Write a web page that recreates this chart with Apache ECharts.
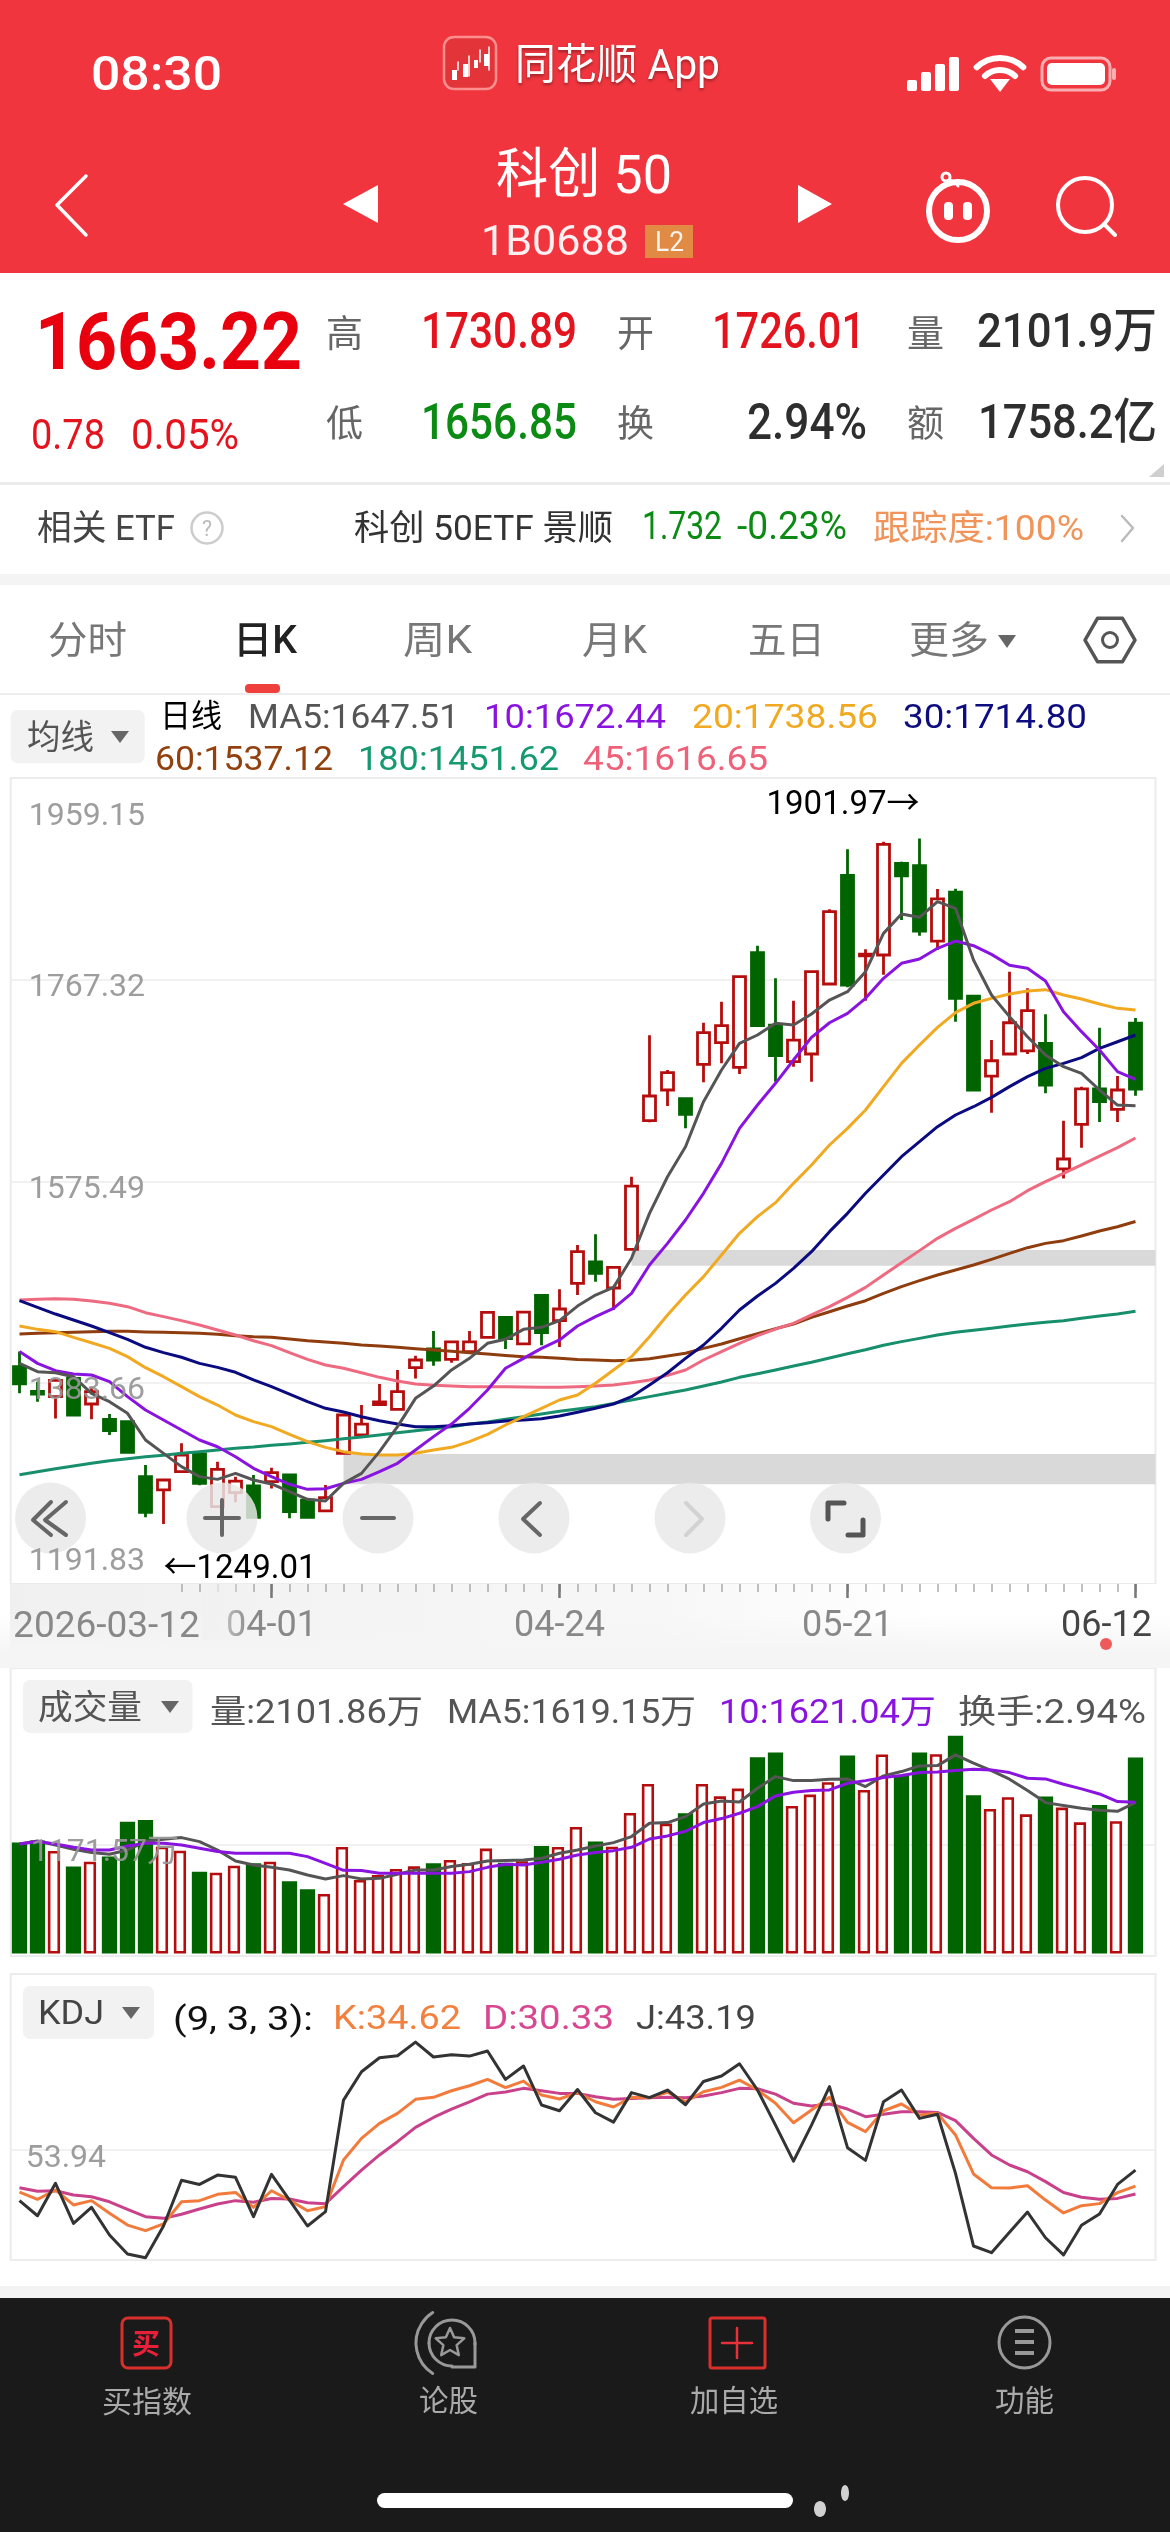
<!DOCTYPE html>
<html lang="zh-CN">
<head>
<meta charset="utf-8">
<title>科创50 日K</title>
<style>html,body{margin:0;padding:0;background:#fff}#main{width:1170px;height:2532px}</style>
<script src="https://cdn.jsdelivr.net/npm/echarts@6/dist/echarts.min.js"></script>
</head>
<body>
<div id="main"></div>
<script>
// Trading days shown on the daily chart
const dates = ['2026-03-12','03-13','03-16','03-17','03-18','03-19','03-20','03-23','03-24','03-25','03-26','03-27','03-30','03-31','04-01','04-02','04-03','04-07','04-08','04-09','04-10','04-13','04-14','04-15','04-16','04-17','04-20','04-21','04-22','04-23','04-24','04-27','04-28','04-29','04-30','05-06','05-07','05-08','05-11','05-12','05-13','05-14','05-15','05-18','05-19','05-20','05-21','05-22','05-25','05-26','05-27','05-28','05-29','06-01','06-02','06-03','06-04','06-05','06-08','06-09','06-10','06-11','06-12'];
const dateLabels = ['2026-03-12','04-01','04-24','05-21','06-12'];

// Daily prices
const open = [1398.9,1375.4,1370.3,1387.7,1363.3,1348.7,1346.5,1294.1,1281.4,1298.8,1315.7,1265.5,1278.8,1285.2,1289.3,1295.7,1271.8,1261.4,1316.3,1333.8,1362.7,1358.2,1397.9,1415.7,1405.8,1413.2,1426.8,1445.8,1420.5,1466.8,1442.7,1478.2,1498.6,1473.8,1510.6,1633.2,1662.4,1654.2,1686.9,1707.5,1684.0,1793.2,1724.3,1689.4,1696.7,1763.4,1866.9,1790.1,1791.0,1878.3,1876.1,1804.3,1851.0,1751.9,1675.7,1696.7,1699.6,1706.9,1587.2,1629.7,1663.4,1644.0,1726.01];
const close = [1382.4,1372.8,1385.8,1352.8,1375.0,1337.9,1317.3,1260.1,1290.9,1314.7,1287.7,1301.1,1289.9,1255.3,1297.9,1260.7,1255.3,1274.1,1352.8,1344.2,1365.2,1375.0,1405.2,1405.2,1422.4,1422.4,1450.6,1425.5,1450.9,1431.2,1453.8,1508.4,1487.8,1493.5,1570.9,1656.7,1678.9,1639.2,1717.0,1723.7,1770.4,1723.7,1695.1,1710.0,1775.1,1832.3,1762.4,1791.9,1896.4,1866.3,1813.9,1844.4,1749.7,1662.4,1690.3,1726.5,1738.0,1667.2,1596.7,1663.4,1651.3,1662.4,1663.22];
const low = [1373.5,1365.5,1349.6,1352.8,1348.7,1333.8,1317.3,1255.3,1249.01,1298.8,1285.8,1265.5,1269.6,1255.3,1282.9,1254.4,1255.3,1261.4,1316.3,1332.8,1362.7,1358.2,1387.7,1399.8,1402.7,1411.6,1426.8,1415.7,1420.5,1419.2,1417.6,1467.1,1479.8,1452.8,1510.6,1631.6,1647.2,1625.9,1669.7,1687.8,1677.6,1723.7,1670.3,1684.6,1670.3,1763.4,1760.2,1747.5,1772.2,1824.4,1809.4,1795.8,1727.5,1662.4,1640.8,1696.7,1696.7,1659.2,1578.2,1607.5,1631.9,1631.9,1656.85];
const high = [1413.2,1384.6,1386.5,1389.3,1379.8,1353.8,1347.4,1305.2,1290.9,1325.8,1316.3,1308.3,1294.1,1295.7,1302.6,1295.7,1271.8,1286.1,1352.8,1362.3,1382.3,1395.7,1409.3,1432.8,1422.4,1432.8,1450.6,1445.8,1450.9,1466.8,1472.5,1514.8,1524.9,1493.5,1579.8,1714.5,1681.5,1655.4,1726.5,1746.6,1770.4,1799.9,1768.8,1747.5,1775.1,1834.5,1891.7,1796.4,1899.0,1879.9,1901.97,1853.9,1854.2,1752.9,1710.0,1775.1,1759.3,1734.5,1633.2,1665.6,1721.8,1675.7,1730.89];

// Moving averages of the close
const ma5 = [1402.0,1394.1,1393.1,1389.3,1373.5,1365.5,1354.4,1329.0,1316.3,1303.6,1294.1,1291.5,1297.2,1290.9,1287.1,1279.8,1272.5,1270.9,1287.7,1297.2,1317.9,1341.7,1368.7,1380.4,1395.7,1406.8,1421.1,1424.9,1434.4,1436.3,1442.7,1456.6,1467.1,1474.4,1502.1,1544.9,1579.8,1608.4,1651.3,1681.5,1706.9,1714.8,1725.9,1724.3,1734.8,1748.1,1756.1,1775.1,1811.6,1830.1,1826.9,1841.8,1835.5,1786.3,1752.9,1732.3,1713.2,1695.8,1684.6,1678.3,1662.4,1648.1,1647.51];
const ma10 = [1413.2,1402.0,1395.0,1391.9,1390.9,1384.6,1370.3,1357.6,1348.0,1338.5,1329.0,1322.6,1313.1,1302.0,1294.1,1286.8,1282.0,1282.6,1287.7,1291.5,1298.8,1306.8,1319.5,1332.2,1344.2,1359.2,1376.6,1397.3,1406.8,1416.3,1424.3,1437.6,1446.5,1454.4,1468.7,1495.7,1516.3,1538.6,1564.0,1592.5,1625.9,1648.1,1668.8,1691.0,1712.6,1726.5,1735.4,1749.7,1768.8,1783.1,1787.2,1797.4,1804.3,1799.9,1791.6,1781.2,1778.3,1766.2,1737.0,1718.0,1700.5,1679.9,1672.44];
const ma20 = [1437.6,1434.4,1432.2,1426.8,1421.7,1416.3,1408.4,1397.9,1389.3,1379.8,1370.3,1362.3,1352.8,1346.5,1341.7,1334.4,1327.4,1322.0,1317.9,1315.7,1314.7,1314.7,1316.3,1319.5,1322.0,1327.4,1334.4,1343.3,1351.2,1359.2,1367.1,1371.9,1383.0,1395.7,1408.4,1427.4,1448.1,1467.1,1484.6,1505.2,1525.9,1541.8,1555.1,1573.5,1591.0,1610.0,1625.9,1643.4,1665.6,1687.8,1705.3,1722.1,1736.1,1745.0,1749.7,1753.9,1756.7,1758.0,1752.9,1749.1,1744.3,1740.2,1738.56];
const ma30 = [1461.7,1455.4,1449.0,1443.3,1437.6,1431.2,1424.9,1417.3,1412.2,1407.8,1402.0,1398.2,1393.5,1386.2,1379.8,1372.8,1365.5,1359.2,1355.7,1351.2,1347.4,1344.2,1341.7,1341.7,1342.6,1344.2,1345.5,1347.1,1348.0,1349.3,1351.9,1355.4,1359.2,1363.3,1370.3,1381.4,1393.1,1406.8,1419.5,1435.4,1452.8,1466.2,1478.2,1492.5,1508.4,1527.5,1544.9,1564.0,1581.4,1598.9,1613.2,1627.5,1638.6,1646.5,1655.4,1665.6,1675.1,1683.0,1687.8,1693.2,1702.1,1708.4,1714.80];
const ma45 = [1462.4,1463.0,1463.6,1463.0,1461.4,1459.2,1456.0,1450.3,1446.5,1442.7,1438.5,1433.8,1429.0,1423.6,1418.9,1412.2,1405.8,1400.4,1397.3,1393.1,1388.7,1385.2,1382.3,1381.1,1380.4,1379.8,1379.8,1379.8,1379.5,1379.2,1379.2,1379.8,1380.4,1381.4,1383.6,1386.2,1390.6,1395.7,1405.2,1413.2,1421.1,1428.4,1434.7,1440.1,1448.1,1456.0,1464.9,1474.4,1486.2,1497.9,1509.4,1521.1,1530.6,1539.2,1548.1,1556.0,1566.5,1575.1,1583.0,1591.0,1599.5,1607.5,1616.65];
const ma60 = [1430.0,1430.6,1431.2,1431.6,1432.2,1432.5,1432.5,1431.9,1431.6,1431.2,1430.6,1429.7,1428.4,1427.4,1426.8,1425.2,1423.6,1422.4,1421.1,1419.5,1418.6,1417.3,1416.0,1414.7,1413.5,1412.2,1410.9,1409.6,1408.4,1407.8,1406.8,1405.8,1405.2,1404.6,1404.9,1406.5,1409.0,1411.6,1416.3,1420.5,1425.5,1430.3,1435.1,1439.5,1445.8,1451.2,1456.6,1461.7,1468.7,1475.1,1480.8,1486.2,1490.9,1495.7,1501.1,1506.8,1512.2,1516.3,1518.9,1523.3,1528.1,1532.2,1537.12];
const ma180 = [1296.0,1298.8,1301.7,1304.2,1306.8,1309.3,1311.2,1313.1,1314.4,1316.3,1317.9,1319.5,1321.1,1322.3,1323.9,1325.2,1326.8,1328.4,1330.3,1331.9,1333.8,1336.0,1337.9,1339.8,1341.7,1344.2,1346.1,1348.7,1351.2,1353.8,1356.3,1358.5,1360.8,1363.9,1367.1,1370.3,1373.5,1376.6,1380.4,1384.2,1388.7,1392.2,1395.7,1399.5,1403.0,1407.1,1411.2,1415.0,1419.2,1422.7,1425.8,1429.0,1431.6,1433.5,1435.4,1437.6,1439.5,1441.1,1442.7,1444.9,1447.1,1449.0,1451.62];

// Price gaps still open, as [upper, lower] with the day each one begins
const gapStartDays = ['04-08','04-30'];
const gapUppers = [1315.7,1510.0];
const gapLowers = [1286.8,1495.1];

// Turnover in units of 万手
const volume = [1189,1211,1100,932,985,1039,1414,1432,1146,1103,878,867,942,967,985,774,688,638,1143,788,842,907,935,967,1003,971,1125,974,989,1153,1143,1357,1200,1146,1508,1819,1393,1504,1819,1686,1769,2105,2155,1583,1704,1837,2123,1754,2134,1915,2155,2137,2334,1697,1550,1676,1493,1683,1565,1407,1593,1418,2101.86];
const volMa5 = [1175,1207,1164,1118,1082,1064,1110,1200,1225,1243,1200,1110,992,949,924,896,842,799,835,799,806,849,896,896,932,957,992,996,1003,1021,1075,1110,1153,1189,1254,1397,1404,1468,1604,1636,1625,1772,1897,1854,1854,1869,1872,1790,1905,1951,2012,2015,2130,2041,1962,1869,1747,1618,1586,1558,1536,1525,1619.15];
const volMa10 = [1175,1200,1175,1139,1110,1110,1153,1182,1182,1164,1128,1093,1075,1075,1075,1075,1039,967,892,889,860,860,860,860,860,878,924,957,949,978,1010,1057,1082,1103,1139,1228,1261,1311,1404,1447,1504,1575,1690,1729,1747,1754,1826,1854,1887,1908,1940,1947,1962,1976,1969,1940,1879,1872,1815,1765,1711,1629,1621.04];

// KDJ (9, 3, 3)
const kdjK = [31.4,27.5,32.5,24.5,26.8,20.0,13.7,10.7,14.3,26.2,26.8,30.2,31.2,23.2,32.1,27.1,21.4,23.6,48.6,60.2,68.2,73.6,81.1,82.2,85.7,88.4,91.8,87.4,90.9,83.4,81.3,84.7,79.8,77.0,82.2,82.0,84.9,79.8,85.2,87.5,91.4,86.1,79.0,68.6,75.4,82.2,68.8,63.8,75.0,78.6,72.7,73.6,62.0,41.1,33.7,33.6,34.8,27.1,20.2,24.1,25.2,31.1,34.62];
const kdjD = [33.7,31.8,32.1,29.8,28.9,26.2,22.1,18.2,17.3,19.5,22.3,25.0,26.8,25.9,27.9,27.7,25.7,25.2,34.3,43.2,51.3,58.4,66.1,71.4,75.9,79.8,83.9,85.0,87.0,85.7,84.3,84.3,82.5,81.1,81.6,82.0,82.2,82.0,82.9,84.7,87.0,86.8,83.9,79.0,77.5,78.6,75.9,71.8,73.1,74.5,74.5,74.1,69.7,60.2,51.3,45.9,42.3,37.0,31.2,28.6,27.5,28.0,30.33];
const kdjJ = [26.8,18.7,36.1,14.6,23.2,8.4,-1.8,-3.8,13.2,37.7,35.5,40.5,39.3,18.2,40.9,27.1,13.2,20.9,80.7,95.9,103.4,104.5,111.8,103.8,105.0,104.3,107.0,91.8,99.0,78.1,75.0,86.4,73.9,68.9,84.7,82.0,86.1,78.2,90.7,93.6,100.2,86.1,67.3,48.0,67.3,87.9,55.2,48.4,79.8,86.1,70.9,73.1,41.4,2.5,-1.1,9.8,20.7,6.9,-2.3,13.6,19.6,35.5,43.19];

// Axis reference values printed beside the panels
const priceTicks = [1959.15,1767.32,1575.49,1383.66,1191.83];
const volumeTicks = [1171.57];
const kdjTicks = [53.94];

const UP = '#b50d0d', DOWN = '#006400';
const FONT = 'Roboto, "Noto Sans CJK SC", sans-serif';
const chart = echarts.init(document.getElementById('main'), null, {width:1170, height:2532, renderer:'canvas'});

// ---------- app chrome ----------
const measure = document.createElement('canvas').getContext('2d');
const g = [];
// Text stretched to fill a span from x0 to x1, vertically centred on cy
function txt(s, x0, x1, cy, size, fill, weight, extra) {
  const font = (weight || 400) + ' ' + size + 'px ' + FONT;
  measure.font = font;
  const w = measure.measureText(s).width;
  g.push({type:'text', x:x0, y:cy + size * 0.1, z:(extra && extra.z) || 60, scaleX:(x1 - x0) / w, silent:true,
    style:Object.assign({text:s, font:font, fill:fill, align:'left', verticalAlign:'middle', textAlign:'left', textVerticalAlign:'middle'}, (extra && extra.style) || {})});
}
function rect(x0, y0, x1, y1, fill, r, z, stroke, lw) {
  g.push({type:'rect', z:z === undefined ? -10 : z, silent:true, shape:{x:x0, y:y0, width:x1 - x0, height:y1 - y0, r:r || 0},
    style:{fill:fill || 'transparent', stroke:stroke || null, lineWidth:lw || 0}});
}
function line(points, stroke, lw, z, fill) {
  g.push({type:'polyline', z:z === undefined ? 60 : z, silent:true, shape:{points:points},
    style:{stroke:stroke, lineWidth:lw, fill:fill || null, lineCap:'round', lineJoin:'round'}});
}
function poly(points, fill, z) {
  g.push({type:'polygon', z:z === undefined ? 60 : z, silent:true, shape:{points:points}, style:{fill:fill}});
}
function circle(cx, cy, r, fill, stroke, lw, z) {
  g.push({type:'circle', z:z === undefined ? 60 : z, silent:true, shape:{cx:cx, cy:cy, r:r},
    style:{fill:fill || 'transparent', stroke:stroke || null, lineWidth:lw || 0}});
}
function arc(cx, cy, r, a0, a1, stroke, lw, z) {
  g.push({type:'arc', z:z === undefined ? 60 : z, silent:true, shape:{cx:cx, cy:cy, r:r, startAngle:a0, endAngle:a1},
    style:{stroke:stroke, lineWidth:lw, fill:null, lineCap:'round'}});
}

// Header
rect(0, 0, 1170, 273, '#f0353e');
txt('08:30', 91, 222, 73, 48, '#fff', 500);
rect(444, 37, 496, 89, '#e3343a', 10, 60, '#ff8f8f', 2.5);
[[452,70,5,10],[463,64,5,13],[474,60,4,8],[484,54,5,12]].forEach(b => rect(b[0], b[1], b[0] + b[2], b[1] + b[3], '#fff', 0, 61));
[[458,62,70],[469,56,76],[480,50,62],[489,47,70]].forEach(b => line([[b[0],b[1]],[b[0],b[2]]], '#fff', 1.5, 61));
txt('同花顺 App', 515, 720, 64, 42, '#fff', 400, {style:{textShadowColor:'rgba(0,0,0,.35)', textShadowBlur:3, textShadowOffsetY:2}});
[[907,80],[921,72],[935,64],[949,57]].forEach(b => rect(b[0], b[1], b[0] + 10, 91, '#fff', 2, 60));
arc(1000, 92, 34, -Math.PI * .74, -Math.PI * .26, '#fff', 6);
arc(1000, 92, 22, -Math.PI * .74, -Math.PI * .26, '#fff', 6);
poly([[1000,92],[990,79],[1010,79]], '#fff');
rect(1042, 58, 1110, 90, null, 9, 60, 'rgba(255,255,255,.6)', 3);
rect(1047, 63, 1105, 85, '#fff', 5, 61);
rect(1112, 68, 1116, 80, 'rgba(255,255,255,.6)', 2, 60);
line([[86,176],[57,205],[86,235]], '#fff', 3.5);
poly([[378,185],[378,223],[343,204]], '#fff');
poly([[798,185],[798,223],[832,204]], '#fff');
txt('科创 50', 496, 672, 174, 54, '#fff');
txt('1B0688', 481, 629, 240, 42, 'rgba(255,255,255,.92)');
rect(645, 225, 693, 258, '#e08a44', 0, 60);
txt('L2', 655, 684, 241, 28, 'rgba(255,255,255,.9)');
circle(958, 211, 29, '#f0353e', '#fff', 6);
circle(946, 177, 4, null, '#fff', 3);
line([[949,180],[956,183],[958,186]], '#fff', 3);
rect(944, 202, 953, 220, '#fff', 4, 61);
rect(963, 202, 972, 220, '#fff', 4, 61);
circle(1085, 205, 27, null, '#fff', 4);
line([[1104,224],[1115,235]], '#fff', 4);

// Quote block
txt('1663.22', 35, 302, 341, 80, '#e8000f', 700);
txt('0.78', 31, 105, 434, 42, '#e3141e');
txt('0.05%', 131, 239, 434, 42, '#e3141e');
const labelGrey = '#666';
txt('高', 326, 363, 334, 37, labelGrey);
txt('开', 617, 654, 334, 37, labelGrey);
txt('量', 907, 944, 334, 37, labelGrey);
txt('低', 326, 363, 424, 37, labelGrey);
txt('换', 617, 654, 424, 37, labelGrey);
txt('额', 907, 944, 424, 37, labelGrey);
txt('1730.89', 421, 577, 330, 50, '#e3141e', 500);
txt('1726.01', 712, 865, 330, 50, '#e3141e', 500);
txt('2101.9万', 977, 1157, 330, 48, '#2e2e2e', 500);
txt('1656.85', 421, 577, 421, 50, '#0b8a14', 500);
txt('2.94%', 747, 867, 421, 50, '#2e2e2e', 500);
txt('1758.2亿', 978, 1157, 421, 48, '#2e2e2e', 500);
poly([[1164,464],[1164,477],[1149,477]], '#cfcfcf');
rect(0, 482, 1170, 485, '#ececec', 0);

// Related ETF row
txt('相关 ETF', 37, 175, 528, 35, '#444');
circle(207, 528, 15.5, null, '#ccc', 2.5);
txt('?', 202, 212, 528, 22, '#bbb');
txt('科创 50ETF 景顺', 354, 613, 528, 35, '#333');
txt('1.732', 642, 722, 526, 38, '#0b8a14');
txt('-0.23%', 737, 847, 526, 38, '#0b8a14');
txt('跟踪度:100%', 873, 1084, 528, 35, '#f0945a');
line([[1122,516],[1133,528],[1122,541]], '#bbb', 2.5);
rect(0, 574, 1170, 585, '#f4f4f4', 0);

// Period tabs
txt('分时', 48, 127, 640, 38, '#777');
txt('日K', 233, 297, 640, 38, '#222', 500);
txt('周K', 403, 472, 640, 38, '#777');
txt('月K', 582, 647, 640, 38, '#777');
txt('五日', 748, 825, 640, 38, '#777');
txt('更多', 909, 989, 640, 38, '#777');
poly([[998,635],[1016,635],[1007,648]], '#666');
const hex = [];
for (let i = 0; i < 6; i++) {
  const a = Math.PI / 3 * i;
  hex.push([1110 + 25 * Math.cos(a), 640 + 25 * Math.sin(a)]);
}
g.push({type:'polygon', z:60, silent:true, shape:{points:hex}, style:{fill:'transparent', stroke:'#555', lineWidth:3.5, lineJoin:'round'}});
circle(1110, 640, 7.5, null, '#555', 3);
rect(245, 684, 280, 693, '#f0403e', 4, 60);
rect(0, 693, 1170, 695, '#ededed', 0);

// Indicator legend for the price panel
rect(10.7, 710, 144.7, 763.3, '#f2f2f2', 7, -9);
txt('均线', 27, 94, 737, 34, '#555');
poly([[111,731],[129,731],[120,743]], '#666');
txt('日线', 160, 222, 716, 32, '#000');
txt('MA5:1647.51', 248, 459, 716, 33, '#555');
txt('10:1672.44', 484, 666, 716, 33, '#8a14df');
txt('20:1738.56', 692, 878, 716, 33, '#f0a920');
txt('30:1714.80', 903, 1087, 716, 33, '#0d0d80');
txt('60:1537.12', 155, 333, 758, 33, '#93400f');
txt('180:1451.62', 358, 559, 758, 33, '#159a70');
txt('45:1616.65', 583, 768, 758, 33, '#ef6079');

// Panel frames and the date strip
rect(10.7, 778, 1155.5, 1584, null, 0, -9, '#ececec', 2);
g.push({type:'rect', z:-9, silent:true, shape:{x:10, y:1584, width:1160, height:84},
  style:{fill:new echarts.graphic.LinearGradient(0, 0, 1, 0, [{offset:0, color:'#f0f0f0'},{offset:.55, color:'#f7f7f7'},{offset:.8, color:'#ffffff'},{offset:1, color:'#ffffff'}])}});
g.push({type:'rect', z:-8, silent:true, shape:{x:0, y:1615, width:1170, height:53},
  style:{fill:new echarts.graphic.LinearGradient(0, 0, 0, 1, [{offset:0, color:'rgba(245,245,245,0)'},{offset:.7, color:'rgba(245,245,245,1)'},{offset:1, color:'rgba(245,245,245,1)'}])}});
g.push({type:'rect', z:30, silent:true, shape:{x:202, y:1584, width:48, height:56},
  style:{fill:new echarts.graphic.LinearGradient(0, 0, 1, 0, [{offset:0, color:'rgba(241,241,241,1)'},{offset:1, color:'rgba(241,241,241,0)'}])}});
circle(1106, 1644, 6, '#ee5a5a');
rect(10.7, 1668, 1155.5, 1956, null, 0, -9, '#ececec', 2);
rect(10.7, 1974, 1155.5, 2260, null, 0, -9, '#ececec', 2);

// Chart toolbar floating over the candles
const btnFill = 'rgba(232,232,232,.84)', iconGrey = '#666';
[50.5, 222, 378, 534, 690, 845.5].forEach(x => circle(x, 1518, 35.5, btnFill, null, 0, 50));
line([[66,1502],[45,1520],[66,1535]], iconGrey, 4);
line([[51,1502],[33,1520],[51,1535]], iconGrey, 4);
line([[222,1500],[222,1535]], iconGrey, 4);
line([[205,1518],[239,1518]], iconGrey, 4);
line([[362,1518],[394,1518]], iconGrey, 4);
line([[540,1503],[523,1519],[540,1535]], iconGrey, 4);
line([[686,1503],[702,1519],[686,1535]], '#d2d2d2', 4);
line([[828,1519],[828,1503],[844,1503]], '#555', 5, 60);
line([[863,1520],[863,1535],[848,1535]], '#555', 5, 60);

// Indicator legends for volume and KDJ
rect(23, 1680, 192.5, 1733, '#f2f2f2', 7, -7);
txt('成交量', 38, 142, 1707, 34, '#555');
poly([[161,1701],[179,1701],[170,1713]], '#666');
txt('量:2101.86万', 210, 423, 1711, 33, '#555');
txt('MA5:1619.15万', 447, 696, 1711, 33, '#555');
txt('10:1621.04万', 719, 936, 1711, 33, '#8a14df');
txt('换手:2.94%', 958, 1146, 1711, 33, '#555');
rect(23, 1986, 154, 2039, '#f2f2f2', 7, -7);
txt('KDJ', 38, 104, 2012, 34, '#444');
poly([[122,2007],[140,2007],[131,2019]], '#666');
txt('(9, 3, 3):', 173, 313, 2018, 33, '#111');
txt('K:34.62', 333, 461, 2017, 33, '#f2813f');
txt('D:30.33', 483, 614, 2017, 33, '#d8478f');
txt('J:43.19', 636, 756, 2017, 33, '#444');

// Bottom tool bar
rect(0, 2286, 1170, 2298, '#f3f3f3', 0);
rect(0, 2298, 1170, 2532, '#1a1a1a', 0);
rect(122, 2318, 171, 2368, null, 6, 60, '#d9302c', 3);
txt('买', 132, 160, 2344, 28, '#e8213a', 700);
txt('买指数', 102, 192, 2401, 30, '#aaa');
arc(452, 2343, 23, -Math.PI, Math.PI * .02, '#999', 3);
arc(452, 2343, 23, Math.PI * .5, Math.PI, '#999', 3);
line([[475,2343],[475,2367],[452,2367]], '#999', 3);
arc(452, 2343, 36, Math.PI * .68, Math.PI * 1.32, '#999', 3);
const star = [];
for (let i = 0; i < 10; i++) {
  const a = -Math.PI / 2 + Math.PI / 5 * i, r = i % 2 ? 7 : 15;
  star.push([450 + r * Math.cos(a), 2343 + r * Math.sin(a)]);
}
g.push({type:'polygon', z:60, silent:true, shape:{points:star}, style:{fill:'transparent', stroke:'#999', lineWidth:2.5, lineJoin:'round'}});
txt('论股', 419, 478, 2400, 30, '#aaa');
rect(710, 2318, 765, 2368, null, 2, 60, '#d9302c', 3);
line([[737,2328],[737,2358]], '#e8303a', 2.5);
line([[722,2343],[752,2343]], '#e8303a', 2.5);
txt('加自选', 690, 778, 2400, 30, '#aaa');
circle(1024.5, 2342.5, 25.5, null, '#999', 3);
[2331, 2342, 2353].forEach(y => rect(1015, y - 2, 1034, y + 2, '#999', 0, 60));
txt('功能', 995, 1054, 2400, 30, '#aaa');
rect(377, 2493, 793, 2508, '#fff', 7.5, 60);
g.push({type:'ellipse', z:60, silent:true, shape:{cx:820, cy:2509, rx:6, ry:8}, style:{fill:'rgba(255,255,255,.8)'}});
g.push({type:'ellipse', z:60, silent:true, shape:{cx:845, cy:2493, rx:4, ry:8}, style:{fill:'rgba(255,255,255,.8)'}});

// ---------- data prepared for the series ----------
const candleData = dates.map((_, i) => [open[i], close[i], low[i], high[i]]);
const isUp = i => close[i] >= open[i];
const hollowVolume = volume.map((v, i) => isUp(i) ? v : null);
const solidVolume = volume.map((v, i) => isUp(i) ? null : v);
const gapAreas = gapStartDays.map((d, i) => [{xAxis:d, yAxis:gapUppers[i]}, {x:1155.5, yAxis:gapLowers[i]}]);

const tickGrey = 'rgba(150,150,150,.93)';
const majorDays = dateLabels.map(d => dates.indexOf(d));
const priceRange = {min:priceTicks[priceTicks.length - 1], max:priceTicks[0]};
const volRange = {min:0, max:2343.14};
const kdjRange = {min:-5.02, max:148.3};
const GRID_L = 10.5, CANDLE_W = 1134, FRAME_L = 10.7, FRAME_W = 1144.8;

function frameSplitAxis(gridIndex, ticks, range) {
  return Object.assign({type:'value', gridIndex, position:'left', axisLine:{show:false}, axisLabel:{show:false},
    axisTick:{show:false, customValues:ticks},
    splitLine:{show:true, lineStyle:{color:'#ececec', width:1.5}}}, range);
}
// Tick labels live on their own canvas layer so they stay legible on top of the marks
function frameLabelAxis(gridIndex, ticks, range, formatter, margin) {
  return Object.assign({type:'value', gridIndex, position:'left', z:20, zlevel:1, axisLine:{show:false}, axisTick:{show:false}, splitLine:{show:false},
    axisLabel:{show:true, inside:true, margin, customValues:ticks, formatter, rich:labelRich, color:tickGrey, fontFamily:FONT, fontSize:32}}, range);
}
const labelRich = {
  base:{color:tickGrey, fontFamily:FONT, fontSize:32, padding:[17,0,0,0]},
  top:{color:tickGrey, fontFamily:FONT, fontSize:32, padding:[76,0,0,0]},
  bottom:{color:tickGrey, fontFamily:FONT, fontSize:32, padding:[0,0,45,0]}
};
function tickName(v) {
  const s = v.toFixed(2);
  if (v === priceTicks[0]) return '{top|' + s + '}';
  if (v === priceTicks[priceTicks.length - 1]) return '{bottom|' + s + '}';
  return '{base|' + s + '}';
}
function lineSeries(name, data, color, xAxisIndex, yAxisIndex, width) {
  return {name, type:'line', data, xAxisIndex, yAxisIndex, showSymbol:false, symbol:'none', smooth:false, z:5, silent:true,
    lineStyle:{color, width:width || 3, join:'round'}};
}
const dateRich = {
  first:{color:'#888', fontFamily:FONT, fontSize:37, padding:[0,0,0,174]},
  mid:{color:'#888', fontFamily:FONT, fontSize:36},
  last:{color:'#444', fontFamily:FONT, fontSize:36, padding:[0,58,0,0]}
};

chart.setOption({
  animation:false,
  backgroundColor:'#fff',
  tooltip:{show:false},
  graphic:{elements:g},
  grid:[
    {left:FRAME_L, width:FRAME_W, top:778.5, height:805.5},
    {left:GRID_L, width:CANDLE_W, top:778.5, height:805.5},
    {left:FRAME_L, width:FRAME_W, top:1735, height:218.5},
    {left:GRID_L, width:CANDLE_W, top:1735, height:218.5},
    {left:FRAME_L, width:FRAME_W, top:1974, height:286},
    {left:GRID_L, width:CANDLE_W, top:1974, height:286}
  ],
  xAxis:[
    {type:'value', gridIndex:0, show:false, min:0, max:1},
    {type:'category', gridIndex:1, position:'bottom', data:dates, z:10, axisLine:{show:false},
      axisTick:{show:true, length:8, alignWithLabel:true, interval:i => i >= 9, lineStyle:{color:'#aaa', width:1.5}},
      axisLabel:{show:true, margin:25, interval:i => majorDays.indexOf(i) >= 0,
        formatter:v => v === dateLabels[0] ? '{first|' + v + '}' : v === dateLabels[dateLabels.length - 1] ? '{last|' + v + '}' : '{mid|' + v + '}',
        rich:dateRich}},
    {type:'category', gridIndex:1, position:'bottom', data:dates, z:10, axisLine:{show:false}, axisLabel:{show:false},
      axisTick:{show:true, length:14, alignWithLabel:true, interval:i => i > 0 && majorDays.indexOf(i) >= 0, lineStyle:{color:'#777', width:2.5}}},
    {type:'value', gridIndex:2, show:false, min:0, max:1},
    {type:'category', gridIndex:3, data:dates, show:false},
    {type:'value', gridIndex:4, show:false, min:0, max:1},
    {type:'category', gridIndex:5, data:dates, show:false}
  ],
  yAxis:[
    frameSplitAxis(0, priceTicks.slice(1, -1), priceRange),
    frameLabelAxis(0, priceTicks, priceRange, tickName, 18),
    Object.assign({type:'value', gridIndex:1, show:false, splitLine:{show:false}}, priceRange),
    frameSplitAxis(2, volumeTicks, volRange),
    frameLabelAxis(2, volumeTicks, volRange, v => '{base|' + v.toFixed(2) + '万}', 20),
    Object.assign({type:'value', gridIndex:3, show:false, splitLine:{show:false}}, volRange),
    frameSplitAxis(4, kdjTicks, kdjRange),
    frameLabelAxis(4, kdjTicks, kdjRange, v => '{base|' + v.toFixed(2) + '}', 15),
    Object.assign({type:'value', gridIndex:5, show:false, splitLine:{show:false}}, kdjRange)
  ],
  series:[
    {name:'日K', type:'candlestick', xAxisIndex:1, yAxisIndex:2, data:candleData, barWidth:12.2, z:3, silent:true,
      itemStyle:{color:'#fff', color0:DOWN, borderColor:UP, borderColor0:DOWN, borderWidth:2.8},
      markArea:{silent:true, z:1, itemStyle:{color:'#d9d9d9'}, data:gapAreas},
      markPoint:{silent:true, symbol:'circle', symbolSize:0, z:12, data:[
        {coord:[dates[high.indexOf(Math.max(...high))], Math.max(...high)],
          label:{show:true, position:'left', offset:[0,-33], distance:0, formatter:Math.max(...high).toFixed(2) + '→', color:'#000', fontFamily:FONT, fontSize:33}},
        {coord:[dates[low.indexOf(Math.min(...low))], Math.min(...low)],
          label:{show:true, position:'right', offset:[0,46], distance:0, formatter:'←' + Math.min(...low).toFixed(2), color:'#000', fontFamily:FONT, fontSize:33}}
      ]}},
    lineSeries('MA180', ma180, '#178f6c', 1, 2),
    lineSeries('MA60', ma60, '#8f3d0e', 1, 2),
    lineSeries('MA45', ma45, '#ee6a80', 1, 2),
    lineSeries('MA30', ma30, '#0b0b80', 1, 2),
    lineSeries('MA20', ma20, '#f2a922', 1, 2),
    lineSeries('MA10', ma10, '#8a14df', 1, 2),
    lineSeries('MA5', ma5, '#555', 1, 2),
    {name:'成交量阳', type:'bar', xAxisIndex:4, yAxisIndex:5, data:hollowVolume, barWidth:12.2, barGap:'-100%', z:3, silent:true,
      itemStyle:{color:'#fff', borderColor:UP, borderWidth:2.6}},
    {name:'成交量阴', type:'bar', xAxisIndex:4, yAxisIndex:5, data:solidVolume, barWidth:15.3, barGap:'-100%', z:3, silent:true,
      itemStyle:{color:DOWN}},
    lineSeries('量MA5', volMa5, '#555', 4, 5),
    lineSeries('量MA10', volMa10, '#8a14df', 4, 5),
    lineSeries('D', kdjD, '#c9418a', 6, 8),
    lineSeries('K', kdjK, '#f27b3c', 6, 8),
    lineSeries('J', kdjJ, '#333', 6, 8)
  ]
});
</script>
</body>
</html>
